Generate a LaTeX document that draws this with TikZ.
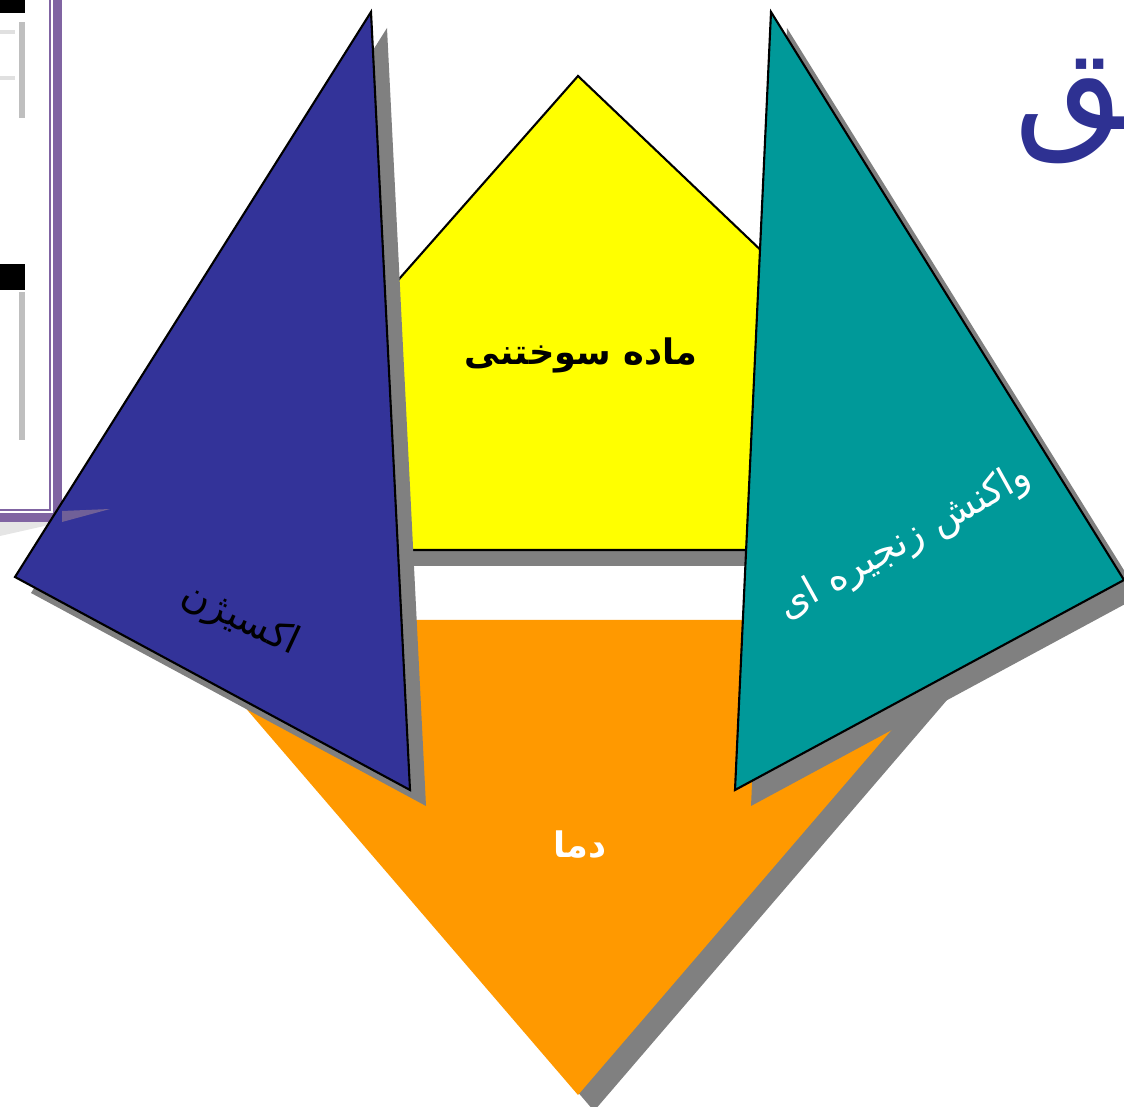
\documentclass[tikz,border=0pt]{standalone}
\usepackage{fontspec}
\newfontfamily\arabicfont[Script=Arabic]{DejaVu Sans}
\TeXXeTstate=1
\usetikzlibrary{positioning}
\definecolor{oxblue}{HTML}{333399}
\definecolor{fuelyellow}{HTML}{FFFF00}
\definecolor{chainteal}{HTML}{009999}
\definecolor{heatorange}{HTML}{FF9900}
\definecolor{shadowgray}{HTML}{808080}
\definecolor{framepurple}{HTML}{8064A2}
\definecolor{titleblue}{HTML}{2E3192}

\begin{document}
\begin{tikzpicture}[x=0.01cm, y=-0.01cm,
  side/.style={draw=black, line width=0.6pt, line join=miter},
  shade/.style={fill=shadowgray, shift={(16,16)}},
  label/.style={font=\arabicfont\fontsize{11}{13}\selectfont}]
\useasboundingbox (0,0) rectangle (1124,1107);
\clip (0,0) rectangle (1124,1107);

% frame of the slide picture, top left
\fill[black!10] (0,522) -- (62,522) -- (40,527) -- (0,536) -- cycle;
\fill[black] (0,0) rectangle (25,13);
\fill[black] (0,264) rectangle (25,290);
\fill[black!25] (19,22) rectangle (25,118);
\fill[black!25] (19,292) rectangle (25,440);
\fill[black!12] (0,30) rectangle (15,34);
\fill[black!12] (0,76) rectangle (15,80);
\fill[framepurple] (49,-5) rectangle (51,511);
\fill[framepurple] (-5,509) rectangle (51,511);
\fill[framepurple] (53,-5) rectangle (62,522);
\fill[framepurple] (-5,513) rectangle (62,522);

% heat
\fill[shade] (170,620) -- (986,620) -- (578,1095) -- cycle;
\fill[heatorange] (170,620) -- (986,620) -- (578,1095) -- cycle;
\node[label, font=\arabicfont\bfseries\fontsize{10}{12}\selectfont, text=white] (heat) at (580,845) {\beginR دما\endR};

% fuel
\fill[shade] (385,295) -- (578,76) -- (790,278) -- (790,550) -- (385,550) -- cycle;
\filldraw[side, fill=fuelyellow] (385,295) -- (578,76) -- (790,278) -- (790,550) -- (385,550) -- cycle;
\node[label, font=\arabicfont\bfseries\fontsize{10}{12}\selectfont] (fuel) at (581,355) {\beginR ماده سوختنی\endR};

% oxygen
\fill[shade] (371,12) -- (410,790) -- (15,577) -- cycle;
\filldraw[side, fill=oxblue] (371,12) -- (410,790) -- (15,577) -- cycle;
\node[label, rotate=-25] (oxygen) at (240,620) {\beginR اکسیژن\endR};

% chain reaction
\fill[shade] (771,12) -- (1124,580) -- (735,790) -- cycle;
\filldraw[side, fill=chainteal] (771,12) -- (1124,580) -- (735,790) -- cycle;
\node[label, rotate=29, text=white] (chain) at (905,542) {\beginR واکنش زنجیره ای\endR};

% callout pointer of the frame
\fill[framepurple!70!gray, opacity=0.8] (62,511) -- (110,509) -- (62,522) -- cycle;

% title, cut by the page edge
\node[anchor=west, text=titleblue, font=\arabicfont\fontsize{40}{44}\selectfont] (title) at (1002,112) {\beginR حریق\endR};
\end{tikzpicture}
\end{document}
